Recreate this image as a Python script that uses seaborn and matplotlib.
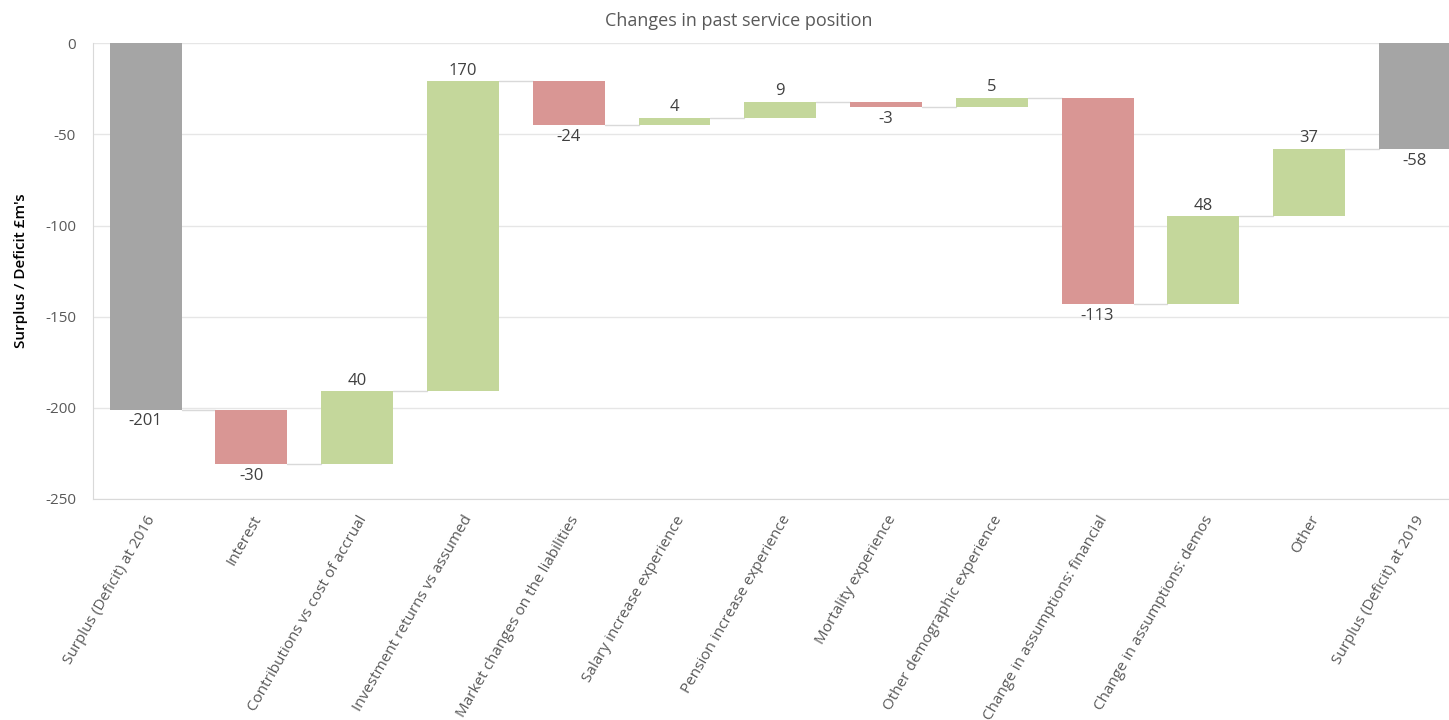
import numpy as np
import pandas as pd
import matplotlib
matplotlib.use("Agg")
import matplotlib.pyplot as plt
import seaborn as sns

# waterfall data
categories = [
    "Surplus (Deficit) at 2016", "Interest", "Contributions vs cost of accrual",
    "Investment returns vs assumed", "Market changes on the liabilities",
    "Salary increase experience", "Pension increase experience",
    "Mortality experience", "Other demographic experience",
    "Change in assumptions: financial", "Change in assumptions: demos",
    "Other", "Surplus (Deficit) at 2019",
]
changes = [-201, -30, 40, 170, -24, 4, 9, -3, 5, -113, 48, 37, -58]
is_total = [True] + [False] * 11 + [True]

sns.set_style("white")
plt.rcParams["font.family"] = ["Open Sans", "DejaVu Sans"]
plt.rcParams["axes.unicode_minus"] = False

# start / end of each floating bar
starts, ends = [], []
running = 0
for val, tot in zip(changes, is_total):
    if tot:
        starts.append(0)
        ends.append(val)
        running = val
    else:
        starts.append(running)
        running += val
        ends.append(running)

colors = []
for val, tot in zip(changes, is_total):
    if tot:
        colors.append("#A5A5A5")
    elif val >= 0:
        colors.append("#C4D79B")
    else:
        colors.append("#D99694")

df = pd.DataFrame({"category": categories, "height": np.subtract(ends, starts)})

fig = plt.figure(figsize=(14.49, 7.2), dpi=100)
ax = fig.add_axes([0.064, 0.307, 0.949, 0.633])

sns.barplot(data=df, x="category", y="height", hue="category", palette=colors,
            width=0.68, legend=False, saturation=1, ax=ax, zorder=3)

# move bars so they float between start and end
for i, patch in enumerate(ax.patches[:len(categories)]):
    lo, hi = min(starts[i], ends[i]), max(starts[i], ends[i])
    patch.set_y(lo)
    patch.set_height(hi - lo)
    patch.set_edgecolor("none")

# connectors
half = 0.34
for i in range(len(categories) - 1):
    ax.plot([i + half, i + 1 - half], [ends[i], ends[i]], color="#d9d9d9", lw=1, zorder=2)

# labels
for i, (val, tot) in enumerate(zip(changes, is_total)):
    top = max(starts[i], ends[i])
    bot = min(starts[i], ends[i])
    if val >= 0 and not tot:
        ax.text(i, top + 1.5, f"{val}", ha="center", va="bottom", fontsize=12, color="#404040")
    else:
        ax.text(i, bot - 2, f"{val}", ha="center", va="top", fontsize=12, color="#404040")

ax.set_ylim(-250, 0)
ax.set_xlim(-0.5, len(categories) - 0.5)
ax.set_yticks(np.arange(-250, 1, 50))
ax.yaxis.grid(True, color="#e6e6e6", lw=1)
ax.set_axisbelow(True)
for s in ["top", "right"]:
    ax.spines[s].set_visible(False)
for s in ["left", "bottom"]:
    ax.spines[s].set_color("#d9d9d9")
ax.tick_params(axis="both", length=0, colors="#595959", labelsize=11)
ax.set_xticks(range(len(categories)))
ax.set_xticklabels(categories, rotation=60, ha="right", rotation_mode="anchor")
ax.tick_params(axis="x", pad=10)
ax.tick_params(axis="y", pad=12)
ax.set_xlabel("")
ax.set_ylabel("Surplus / Deficit £m's", fontsize=11, color="black", fontweight="semibold", labelpad=12)
fig.text(0.51, 0.971, "Changes in past service position", ha="center", va="center",
         fontsize=13, color="#595959")

fig.savefig("out.png", dpi=100)
